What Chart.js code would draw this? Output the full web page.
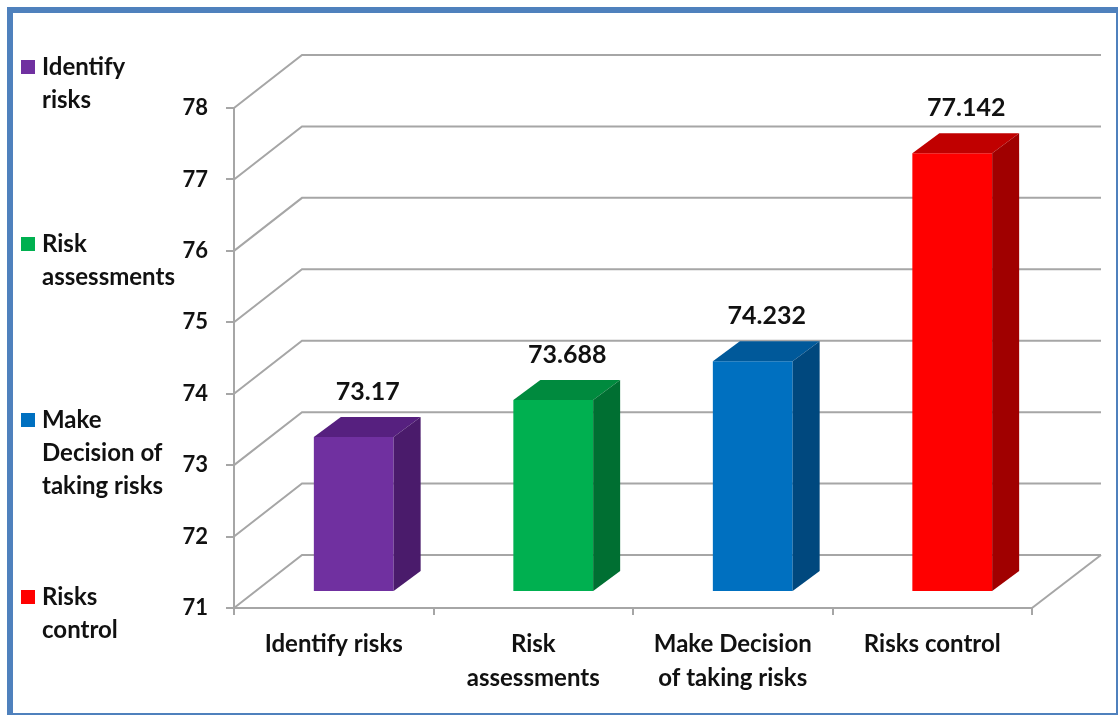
<!DOCTYPE html>
<html>
<head>
<meta charset="utf-8">
<script src="https://cdn.jsdelivr.net/npm/chart.js@4.4.1/dist/chart.umd.min.js"></script>
<style>
    html, body { margin: 0; padding: 0; background: #fff; }
    #frame {
        position: absolute; left: 7px; top: 7px; width: 1111px; height: 708px;
        box-sizing: border-box; border: 6px solid #4F81BD;
        border-right-width: 2px; border-bottom-width: 2px;
    }
    #wrap { position: absolute; left: 0; top: 0; width: 1120px; height: 718px; }
</style>
</head>
<body>
<div id="frame"></div>
<div id="wrap"><canvas id="riskChart" width="1120" height="718"></canvas></div>
<script>
const categories = ['Identify risks', 'Risk assessments', 'Make Decision of taking risks', 'Risks control'];
const scores = [73.17, 73.688, 74.232, 77.142];
const tickLines = [['Identify risks'], ['Risk', 'assessments'], ['Make Decision', 'of taking risks'], ['Risks control']];
const legendLines = [['Identify', 'risks'], ['Risk', 'assessments'], ['Make', 'Decision of', 'taking risks'], ['Risks', 'control']];
const frontColors = ['#7030A0', '#00B050', '#0070C0', '#FF0000'];
const topColors = ['#56207F', '#008A3E', '#00599A', '#C00000'];
const sideColors = ['#4A1B6B', '#006F32', '#00487E', '#A00000'];

const FONT = 'Lato, "Liberation Sans", sans-serif';
const GRID = '#A6A6A6';
// depth of the back wall and of the bars
const WALL = { dx: 68, dy: -53 };
const BAR_SHIFT = { dx: 20, dy: -16 };
const BAR_DEPTH = { dx: 27, dy: -20 };

const wallPlugin = {
    id: 'wall',
    beforeDatasetsDraw(chart) {
        const ctx = chart.ctx;
        const { left, right, bottom } = chart.chartArea;
        const y = chart.scales.y;
        ctx.save();
        ctx.strokeStyle = GRID;
        ctx.lineWidth = 2;
        y.ticks.forEach(t => {
            const py = y.getPixelForValue(t.value);
            ctx.beginPath();
            ctx.moveTo(left, py);
            ctx.lineTo(left + WALL.dx, py + WALL.dy);
            ctx.lineTo(right + WALL.dx + 1, py + WALL.dy);
            ctx.stroke();
        });
        // right edge of the floor
        ctx.beginPath();
        ctx.moveTo(right, bottom);
        ctx.lineTo(right + WALL.dx + 1, bottom + WALL.dy);
        ctx.stroke();
        ctx.restore();

        // front faces are drawn by Chart.js, pushed back into the floor
        ctx.save();
        ctx.translate(BAR_SHIFT.dx, BAR_SHIFT.dy);
    },
    afterDatasetsDraw(chart) {
        const ctx = chart.ctx;
        ctx.restore();
        const meta = chart.getDatasetMeta(0);
        ctx.save();
        meta.data.forEach((bar, i) => {
            const l = bar.x - bar.width / 2 + BAR_SHIFT.dx;
            const r = bar.x + bar.width / 2 + BAR_SHIFT.dx;
            const t = bar.y + BAR_SHIFT.dy;
            const b = bar.base + BAR_SHIFT.dy;
            ctx.fillStyle = topColors[i];
            ctx.beginPath();
            ctx.moveTo(l, t);
            ctx.lineTo(l + BAR_DEPTH.dx, t + BAR_DEPTH.dy);
            ctx.lineTo(r + BAR_DEPTH.dx, t + BAR_DEPTH.dy);
            ctx.lineTo(r, t);
            ctx.closePath();
            ctx.fill();
            ctx.fillStyle = sideColors[i];
            ctx.beginPath();
            ctx.moveTo(r, t);
            ctx.lineTo(r + BAR_DEPTH.dx, t + BAR_DEPTH.dy);
            ctx.lineTo(r + BAR_DEPTH.dx, b + BAR_DEPTH.dy);
            ctx.lineTo(r, b);
            ctx.closePath();
            ctx.fill();

            // value above the box
            ctx.fillStyle = '#111';
            ctx.font = 'bold 25px ' + FONT;
            ctx.textAlign = 'center';
            ctx.textBaseline = 'middle';
            ctx.fillText(String(scores[i]), (l + r) / 2 + 14, t - 45);
        });
        ctx.restore();
    },
    afterDraw(chart) {
        // legend down the left side
        const ctx = chart.ctx;
        const tops = [67, 244, 420, 597];
        ctx.save();
        ctx.font = 'bold 24px ' + FONT;
        ctx.textAlign = 'left';
        ctx.textBaseline = 'middle';
        legendLines.forEach((lines, i) => {
            ctx.fillStyle = frontColors[i];
            ctx.fillRect(21, tops[i] - 7, 14, 14);
            ctx.fillStyle = '#111';
            lines.forEach((ln, j) => ctx.fillText(ln, 42, tops[i] + j * 33));
        });
        ctx.restore();
    }
};

new Chart(document.getElementById('riskChart'), {
    type: 'bar',
    data: {
        labels: categories,
        datasets: [{
            data: scores,
            base: 71,
            backgroundColor: frontColors,
            borderWidth: 0,
            barPercentage: 0.4,
            categoryPercentage: 1,
            clip: false
        }]
    },
    options: {
        responsive: false,
        animation: false,
        layout: { padding: { left: 0, top: 108, right: 88, bottom: 0 } },
        plugins: { legend: { display: false }, tooltip: { enabled: false } },
        scales: {
            x: {
                afterFit: s => { s.height = 110; },
                grid: { drawOnChartArea: false, color: GRID, lineWidth: 2, tickLength: 7, offset: true },
                border: { color: GRID, width: 2 },
                ticks: {
                    color: '#111',
                    padding: 12,
                    font: { family: FONT, size: 24, weight: 'bold', lineHeight: 1.42 },
                    callback: (v, i) => tickLines[i]
                }
            },
            y: {
                min: 71,
                max: 78,
                afterFit: s => { s.width = 234; },
                grid: { drawOnChartArea: false, color: GRID, lineWidth: 2, tickLength: 8 },
                border: { color: GRID, width: 2 },
                ticks: {
                    stepSize: 1,
                    color: '#111',
                    padding: 18,
                    font: { family: FONT, size: 22, weight: 'bold' }
                }
            }
        }
    },
    plugins: [wallPlugin]
});
</script>
</body>
</html>
